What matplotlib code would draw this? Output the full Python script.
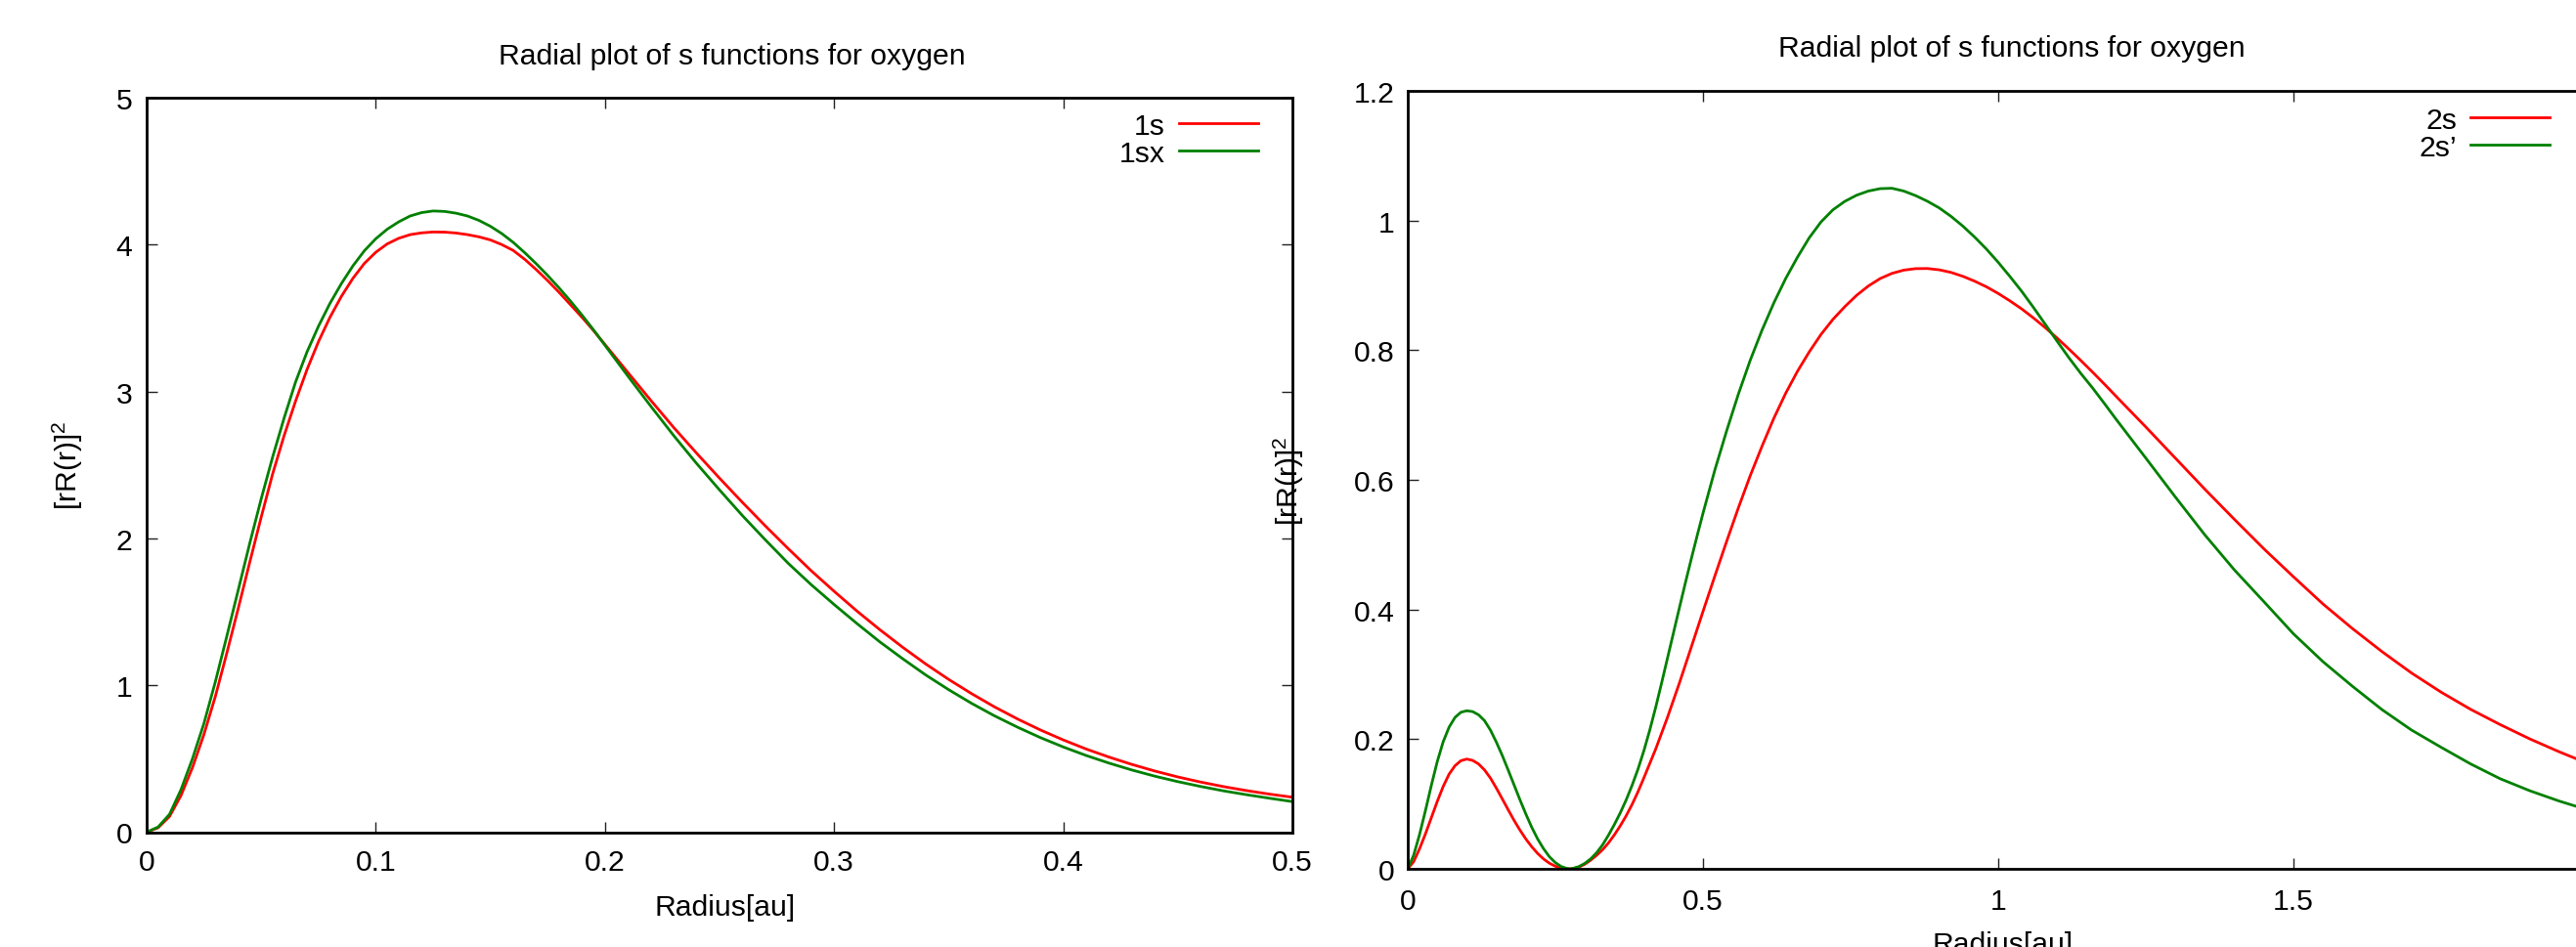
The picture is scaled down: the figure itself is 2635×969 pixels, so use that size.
import matplotlib
matplotlib.use('Agg')
import matplotlib.pyplot as plt
from matplotlib.ticker import FixedLocator, FuncFormatter

plt.rcParams['font.family'] = ['Liberation Sans', 'DejaVu Sans']
plt.rcParams['mathtext.fontset'] = 'custom'
plt.rcParams['mathtext.rm'] = 'Liberation Sans'

# ---------------- data ----------------
title = "Radial plot of s functions for oxygen"
xlabel = "Radius[au]"
ylabel = r"$\mathregular{[rR(r)]^2}$"

r_1s = [0, 0.005, 0.010, 0.015, 0.020, 0.025, 0.030, 0.035, 0.040, 0.045, 0.050,
        0.055, 0.060, 0.065, 0.070, 0.075, 0.080, 0.085, 0.090, 0.095, 0.100,
        0.105, 0.110, 0.115, 0.120, 0.125, 0.130, 0.135, 0.140, 0.145, 0.150,
        0.155, 0.160, 0.165, 0.170, 0.175, 0.180, 0.185, 0.190, 0.195, 0.200,
        0.205, 0.210, 0.220, 0.230, 0.240, 0.250, 0.260, 0.270, 0.280, 0.290,
        0.300, 0.310, 0.320, 0.330, 0.340, 0.350, 0.360, 0.370, 0.380, 0.390,
        0.400, 0.410, 0.420, 0.430, 0.440, 0.450, 0.460, 0.470, 0.480, 0.490, 0.500]
p_1s = [0, 0.030, 0.107, 0.250, 0.440, 0.665, 0.925, 1.220, 1.525, 1.838, 2.145,
        2.440, 2.700, 2.935, 3.150, 3.340, 3.505, 3.648, 3.770, 3.872, 3.948,
        4.005, 4.043, 4.068, 4.080, 4.086, 4.085, 4.079, 4.068, 4.053, 4.032,
        4.000, 3.960, 3.900, 3.830, 3.755, 3.675, 3.590, 3.505, 3.415, 3.320,
        3.225, 3.130, 2.940, 2.755, 2.580, 2.410, 2.245, 2.085, 1.930, 1.780,
        1.640, 1.505, 1.378, 1.258, 1.145, 1.040, 0.943, 0.853, 0.771, 0.696,
        0.628, 0.566, 0.511, 0.461, 0.416, 0.376, 0.341, 0.310, 0.283, 0.259, 0.238]

r_1sx = [0, 0.005, 0.010, 0.015, 0.020, 0.025, 0.030, 0.035, 0.040, 0.045, 0.050,
         0.055, 0.060, 0.065, 0.070, 0.075, 0.080, 0.085, 0.090, 0.095, 0.100,
         0.105, 0.110, 0.115, 0.120, 0.125, 0.130, 0.135, 0.140, 0.145, 0.150,
         0.155, 0.160, 0.165, 0.170, 0.175, 0.180, 0.185, 0.190, 0.195, 0.200,
         0.205, 0.210, 0.220, 0.230, 0.240, 0.250, 0.260, 0.270, 0.280, 0.290,
         0.300, 0.310, 0.320, 0.330, 0.340, 0.350, 0.360, 0.370, 0.380, 0.390,
         0.400, 0.410, 0.420, 0.430, 0.440, 0.450, 0.460, 0.470, 0.480, 0.490, 0.500]
p_1sx = [0, 0.035, 0.122, 0.290, 0.500, 0.740, 1.025, 1.335, 1.650, 1.967, 2.270,
         2.555, 2.820, 3.065, 3.270, 3.445, 3.600, 3.735, 3.855, 3.958, 4.040,
         4.105, 4.155, 4.195, 4.218, 4.229, 4.226, 4.214, 4.195, 4.165, 4.125,
         4.075, 4.015, 3.945, 3.870, 3.790, 3.705, 3.615, 3.520, 3.420, 3.315,
         3.210, 3.105, 2.900, 2.700, 2.510, 2.330, 2.155, 1.990, 1.830, 1.685,
         1.550, 1.420, 1.295, 1.180, 1.070, 0.970, 0.877, 0.792, 0.715, 0.644,
         0.580, 0.522, 0.470, 0.423, 0.381, 0.344, 0.311, 0.281, 0.255, 0.231, 0.208]

r_2s = [0, 0.01, 0.02, 0.03, 0.04, 0.05, 0.06, 0.07, 0.08, 0.09, 0.10,
        0.11, 0.12, 0.13, 0.14, 0.15, 0.16, 0.17, 0.18, 0.19, 0.20,
        0.21, 0.22, 0.23, 0.24, 0.25, 0.26, 0.27, 0.276, 0.28, 0.29, 0.30,
        0.31, 0.32, 0.33, 0.34, 0.35, 0.36, 0.37, 0.38, 0.39, 0.40,
        0.42, 0.44, 0.46, 0.48, 0.50, 0.52, 0.54, 0.56, 0.58, 0.60,
        0.62, 0.64, 0.66, 0.68, 0.70, 0.72, 0.74, 0.76, 0.78, 0.80,
        0.82, 0.84, 0.86, 0.88, 0.90, 0.92, 0.94, 0.96, 0.98, 1.00,
        1.02, 1.04, 1.06, 1.08, 1.10, 1.12, 1.14, 1.16, 1.18, 1.20,
        1.25, 1.30, 1.35, 1.40, 1.45, 1.50, 1.55, 1.60, 1.65, 1.70,
        1.75, 1.80, 1.85, 1.90, 1.95, 2.00]
p_2s = [0, 0.011, 0.031, 0.054, 0.079, 0.104, 0.127, 0.146, 0.159, 0.1668, 0.1693,
        0.1672, 0.1617, 0.1525, 0.1400, 0.1245, 0.1080, 0.0912, 0.0748, 0.0597, 0.0460,
        0.0340, 0.0237, 0.0152, 0.0086, 0.0040, 0.0012, 0.0001, 0.0, 0.0003, 0.0027, 0.0072,
        0.0135, 0.0210, 0.0295, 0.0400, 0.0525, 0.0665, 0.0820, 0.0995, 0.1190, 0.1405,
        0.1850, 0.2340, 0.2865, 0.3415, 0.3970, 0.4515, 0.5050, 0.5570, 0.6065, 0.6520,
        0.6950, 0.7335, 0.7675, 0.7975, 0.8245, 0.8475, 0.8670, 0.8845, 0.8990, 0.9105,
        0.9185, 0.9235, 0.9258, 0.9260, 0.9240, 0.9200, 0.9140, 0.9065, 0.8978, 0.8875,
        0.8760, 0.8635, 0.8495, 0.8345, 0.8185, 0.8015, 0.7840, 0.7660, 0.7475, 0.7285,
        0.6815, 0.6335, 0.5855, 0.5390, 0.4935, 0.4505, 0.4085, 0.3705, 0.3350, 0.3020,
        0.2725, 0.2460, 0.2225, 0.2005, 0.1805, 0.1620]

r_2sp = [0, 0.01, 0.02, 0.03, 0.04, 0.05, 0.06, 0.07, 0.08, 0.09, 0.10,
         0.11, 0.12, 0.13, 0.14, 0.15, 0.16, 0.17, 0.18, 0.19, 0.20,
         0.21, 0.22, 0.23, 0.24, 0.25, 0.26, 0.27, 0.275, 0.28, 0.29, 0.30,
         0.31, 0.32, 0.33, 0.34, 0.35, 0.36, 0.37, 0.38, 0.39, 0.40,
         0.41, 0.42, 0.43, 0.44, 0.45, 0.46, 0.47, 0.48, 0.49, 0.50,
         0.52, 0.54, 0.56, 0.58, 0.60, 0.62, 0.64, 0.66, 0.68, 0.70,
         0.72, 0.74, 0.76, 0.78, 0.80, 0.82, 0.84, 0.86, 0.88, 0.90,
         0.92, 0.94, 0.96, 0.98, 1.00, 1.02, 1.04, 1.06, 1.08, 1.10,
         1.12, 1.14, 1.16, 1.18, 1.20, 1.25, 1.30, 1.35, 1.40, 1.45,
         1.50, 1.55, 1.60, 1.65, 1.70, 1.75, 1.80, 1.85, 1.90, 1.95, 2.00]
p_2sp = [0, 0.021, 0.053, 0.090, 0.129, 0.1655, 0.196, 0.2185, 0.2335, 0.2415, 0.2438,
         0.2425, 0.2375, 0.2285, 0.2140, 0.1955, 0.1750, 0.1525, 0.1295, 0.1065, 0.0845,
         0.0640, 0.0460, 0.0310, 0.0185, 0.0095, 0.0035, 0.0005, 0.0, 0.0008, 0.0035, 0.0085,
         0.0155, 0.0250, 0.0370, 0.0520, 0.0685, 0.0865, 0.1065, 0.1290, 0.1540, 0.1825,
         0.2145, 0.2495, 0.2870, 0.3255, 0.3640, 0.4025, 0.4405, 0.4775, 0.5135, 0.5485,
         0.6150, 0.6755, 0.7325, 0.7845, 0.8310, 0.8730, 0.9105, 0.9435, 0.9735, 0.9980,
         1.0165, 1.0295, 1.0390, 1.0455, 1.0492, 1.0498, 1.0455, 1.0385, 1.0298, 1.0195,
         1.0065, 0.9915, 0.9745, 0.9560, 0.9355, 0.9135, 0.8905, 0.8655, 0.8395, 0.8135,
         0.7880, 0.7640, 0.7415, 0.7175, 0.6930, 0.6335, 0.5735, 0.5150, 0.4610, 0.4120,
         0.3625, 0.3195, 0.2815, 0.2455, 0.2140, 0.1875, 0.1618, 0.1390, 0.1205, 0.1045, 0.0905]

left_xticks = [0, 0.1, 0.2, 0.3, 0.4, 0.5]
left_yticks = [0, 1, 2, 3, 4, 5]
right_xticks = [0, 0.5, 1, 1.5, 2]
right_yticks = [0, 0.2, 0.4, 0.6, 0.8, 1.0, 1.2]

# ---------------- layout ----------------
W, H = 2635, 970
fig = plt.figure(figsize=(W / 100, H / 100), dpi=100)

def fx(px):
    return px / W

def fy(py):
    return 1 - py / H

RED = '#ff0000'
GREEN = '#008000'
FS = 21.7
gfmt = FuncFormatter(lambda v, p: '%g' % v)

ax1 = fig.add_axes([fx(150), fy(852.5), (1322 - 150) / W, (852.5 - 101) / H])
ax2 = fig.add_axes([fx(1440), fy(890), (2648 - 1440) / W, (890 - 94) / H])

for ax in (ax1, ax2):
    for s in ax.spines.values():
        s.set_linewidth(2.0)
        s.set_color('black')
    ax.xaxis.set_major_formatter(gfmt)
    ax.yaxis.set_major_formatter(gfmt)
    ax.tick_params(which='both', direction='in', top=True, right=True,
                   length=8, width=1.0, color='#222222', labelsize=FS)

l1, = ax1.plot(r_1s, p_1s, color=RED, lw=2.0, label='1s')
l2, = ax1.plot(r_1sx, p_1sx, color=GREEN, lw=2.0, label='1sx')
ax1.set_xlim(0, 0.5)
ax1.set_ylim(0, 5)
ax1.xaxis.set_major_locator(FixedLocator(left_xticks))
ax1.yaxis.set_major_locator(FixedLocator(left_yticks))
ax1.tick_params(axis='x', pad=12)
ax1.tick_params(axis='y', pad=10.5)

l3, = ax2.plot(r_2s, p_2s, color=RED, lw=2.0, label='2s')
l4, = ax2.plot(r_2sp, p_2sp, color=GREEN, lw=2.0, label='2s\u2019')
ax2.set_xlim(0, 2)
ax2.set_ylim(0, 1.2)
ax2.xaxis.set_major_locator(FixedLocator(right_xticks))
ax2.yaxis.set_major_locator(FixedLocator(right_yticks))
ax2.tick_params(axis='x', pad=14)
ax2.tick_params(axis='y', pad=9.5)

leg_kw = dict(fontsize=FS, frameon=False, markerfirst=False, handlelength=2.7,
              handletextpad=0.45, labelspacing=0.0, borderpad=0, borderaxespad=0,
              loc='upper right', bbox_transform=fig.transFigure)
ax1.legend(handles=[l1, l2], bbox_to_anchor=(fx(1287), fy(116)), **leg_kw)
ax2.legend(handles=[l3, l4], bbox_to_anchor=(fx(2608), fy(110)), **leg_kw)

# titles and axis labels
fig.text(fx(749), fy(66), title, fontsize=FS, ha='center', va='baseline')
fig.text(fx(2058), fy(58), title, fontsize=FS, ha='center', va='baseline')
fig.text(fx(742), fy(937), xlabel, fontsize=FS, ha='center', va='baseline')
fig.text(fx(2049), fy(975), xlabel, fontsize=FS, ha='center', va='baseline')
fig.text(fx(69), fy(476), ylabel, fontsize=FS, ha='center', va='center', rotation=90)
fig.text(fx(1318), fy(492), ylabel, fontsize=FS, ha='center', va='center', rotation=90)

fig.savefig('out.png', dpi=100, facecolor='white')
